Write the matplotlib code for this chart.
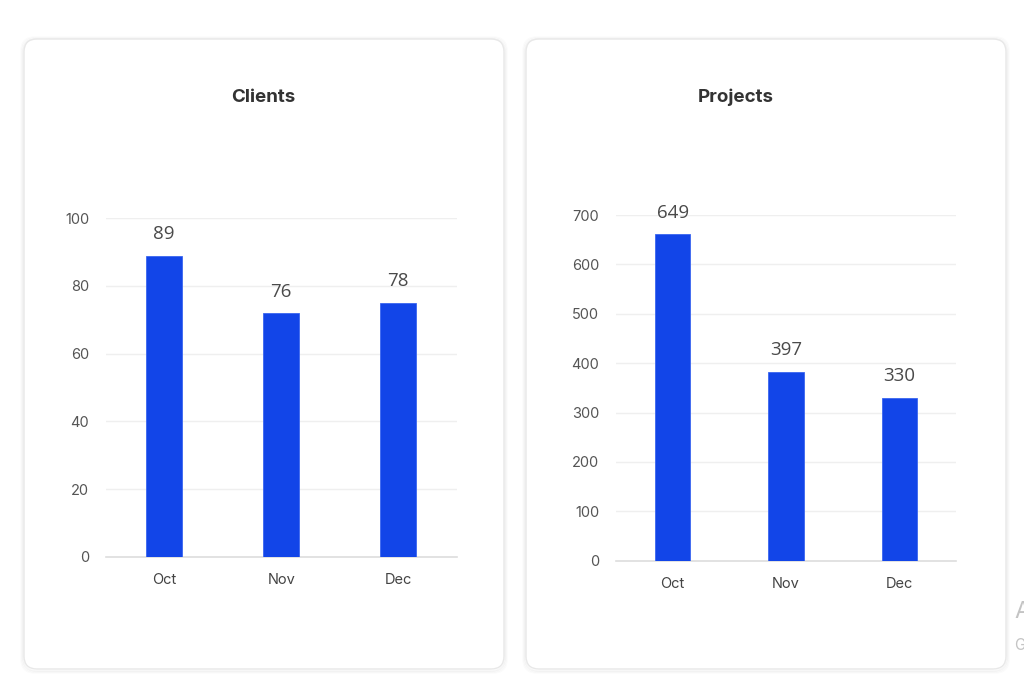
import matplotlib
matplotlib.use("Agg")
import matplotlib.pyplot as plt
from matplotlib.patches import FancyBboxPatch

# data
months = ["Oct", "Nov", "Dec"]
clients_bars = [89, 72, 75]
clients_labels = ["89", "76", "78"]
projects_bars = [661, 383, 330]
projects_labels = ["649", "397", "330"]

BLUE = "#1245E8"
TXT = "#4a4a4a"

plt.rcParams["font.family"] = ["Inter", "DejaVu Sans"]

fig = plt.figure(figsize=(10.24, 6.75), dpi=100)
fig.patch.set_facecolor("white")

# background layer in pixel coords for the cards
bg = fig.add_axes([0, 0, 1, 1], zorder=0)
bg.set_xlim(0, 1024)
bg.set_ylim(675, 0)
bg.axis("off")


def card(x0, y0, x1, y1):
    # soft shadow
    for i, a in enumerate([0.035, 0.025, 0.015]):
        g = i + 1
        bg.add_patch(FancyBboxPatch((x0 - g, y0 - g + 1), x1 - x0 + 2 * g, y1 - y0 + 2 * g,
                                    boxstyle="round,pad=0,rounding_size=14",
                                    fc="none", ec="black", lw=1.2, alpha=a))
    bg.add_patch(FancyBboxPatch((x0, y0), x1 - x0, y1 - y0,
                                boxstyle="round,pad=0,rounding_size=13",
                                fc="white", ec="#e8e8e8", lw=1.0))


card(24, 39, 504, 669)
card(526, 39, 1006, 669)

bg.text(263, 97, "Clients", ha="center", va="center", fontsize=13.5,
        fontweight="bold", color="#333333")
bg.text(736, 97, "Projects", ha="center", va="center", fontsize=13.5,
        fontweight="bold", color="#333333")

# faint cut-off text at the right edge (cut off in the reference too)
bg.text(1014, 612, "A", ha="left", va="center", fontsize=17, color="#c4c4c4")
bg.text(1014, 645, "G", ha="left", va="center", fontsize=11, color="#c4c4c4")


def bar_chart(rect, values, labels, ymax, step):
    ax = fig.add_axes(rect, zorder=2)
    ax.set_facecolor("none")
    x = range(len(months))
    ax.bar(x, values, width=0.31, color=BLUE, edgecolor="#3a66f0", linewidth=0.6, zorder=3)
    for xi, v, lab in zip(x, values, labels):
        ax.annotate(lab, (xi, v), xytext=(0, 15.5), textcoords="offset points",
                    ha="center", va="center", fontsize=13.5, color=TXT,
                    family=["Open Sans", "DejaVu Sans"])
    ax.set_xlim(-0.5, len(months) - 0.5)
    ax.set_ylim(0, ymax)
    ax.set_yticks(range(0, ymax + 1, step))
    ax.set_xticks(list(x))
    ax.set_xticklabels(months)
    ax.grid(axis="y", color="#efefef", lw=1, zorder=0)
    for s in ["top", "right", "left"]:
        ax.spines[s].set_visible(False)
    ax.spines["bottom"].set_color("#dddddd")
    ax.spines["bottom"].set_linewidth(1.2)
    ax.tick_params(axis="y", length=0, pad=12, labelsize=10.5, labelcolor="#555555")
    ax.tick_params(axis="x", length=0, pad=12, labelsize=10.5, labelcolor="#444444")
    return ax


bar_chart([105.7 / 1024, 1 - 556.8 / 675, 351 / 1024, 338.5 / 675],
          clients_bars, clients_labels, 100, 20)
bar_chart([616 / 1024, 1 - 560.7 / 675, 340 / 1024, 345.7 / 675],
          projects_bars, projects_labels, 700, 100)

fig.savefig("out.png", dpi=100)
